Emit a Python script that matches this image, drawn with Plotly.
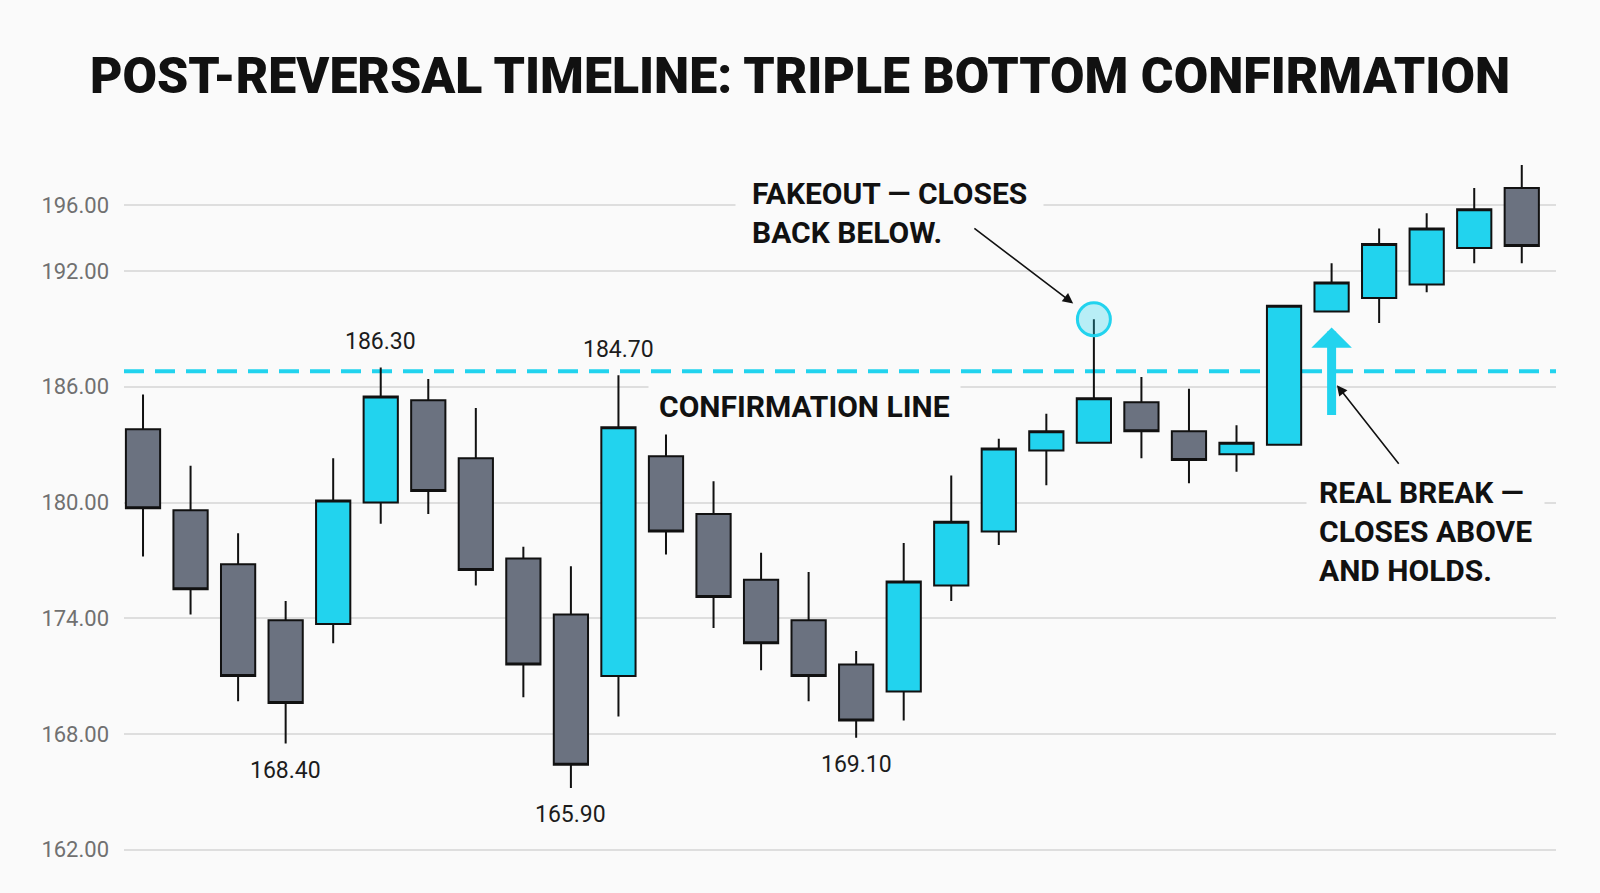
import plotly.graph_objects as go

TITLE = "POST-REVERSAL TIMELINE: TRIPLE BOTTOM CONFIRMATION"

# OHLC per session (left to right)
opens = [183.8, 179.6, 176.8, 173.9, 173.7, 180.0, 185.3, 182.3, 177.1, 174.2,
         171.0, 182.4, 179.4, 176.0, 173.9, 171.6, 170.2, 175.7, 178.5, 182.7,
         183.1, 185.2, 183.7, 182.5, 183.0, 189.9, 190.6, 191.3, 193.2, 196.3]
highs = [185.6, 181.9, 178.4, 174.9, 182.3, 187.0, 186.4, 184.9, 177.7, 176.7,
         186.6, 183.6, 181.1, 177.4, 176.4, 172.3, 177.9, 181.4, 183.3, 184.6,
         189.5, 186.5, 185.9, 184.0, 190.2, 192.4, 194.2, 195.0, 196.3, 197.5]
lows = [177.2, 174.2, 169.7, 167.5, 172.7, 178.9, 179.4, 175.7, 169.9, 165.2,
        168.9, 177.3, 173.5, 171.3, 169.7, 167.8, 168.7, 174.9, 177.8, 180.9,
        183.1, 182.3, 181.0, 181.6, 183.0, 189.9, 189.3, 190.9, 192.4, 192.4]
closes = [179.7, 175.5, 171.0, 169.6, 180.1, 185.5, 180.6, 176.5, 171.6, 166.4,
          183.9, 178.5, 175.1, 172.7, 171.0, 168.7, 175.9, 179.0, 182.8, 183.7,
          185.4, 183.7, 182.2, 183.1, 190.2, 191.4, 193.4, 194.2, 195.2, 193.3]

CONFIRM_LEVEL = 186.8

# y ticks as they sit on the picture
tick_pos = [162, 168, 174, 180, 186, 192, 195.4]
tick_text = ["162.00", "168.00", "174.00", "180.00", "186.00", "192.00", "196.00"]

# price callouts at the swing highs / lows
callout_idx = [5, 10, 3, 9, 15]
callout_text = ["186.30", "184.70", "168.40", "165.90", "169.10"]
callout_side = ["high", "high", "low", "low", "low"]

FAKEOUT_IDX = 20
BREAK_IDX = 25

CYAN = "#22d3ee"
GRAY = "#6b7280"
INK = "#111111"
BG = "#fafafa"
FONT = "Roboto"

x = list(range(len(opens)))

fig = go.Figure()

fig.add_trace(go.Candlestick(
    x=x, open=opens, high=highs, low=lows, close=closes,
    increasing=dict(fillcolor=CYAN, line=dict(color=INK, width=2)),
    decreasing=dict(fillcolor=GRAY, line=dict(color=INK, width=2)),
    whiskerwidth=0,
    showlegend=False,
))

# ring around the fakeout wick
fig.add_trace(go.Scatter(
    x=[FAKEOUT_IDX], y=[highs[FAKEOUT_IDX]],
    mode="markers",
    marker=dict(size=33, color="rgba(34,211,238,0.30)",
                line=dict(color=CYAN, width=3)),
    showlegend=False, hoverinfo="skip",
))

# dashed confirmation line
fig.add_shape(
    type="line", xref="paper", x0=0, x1=1, yref="y",
    y0=CONFIRM_LEVEL, y1=CONFIRM_LEVEL,
    line=dict(color=CYAN, width=4, dash="20px,11px"),
    layer="between",
)

# swing high/low price labels
for i, txt, side in zip(callout_idx, callout_text, callout_side):
    if side == "high":
        fig.add_annotation(x=i, y=highs[i], text=txt, showarrow=False,
                           yanchor="bottom", yshift=10,
                           font=dict(family=FONT, size=23, color="#1c1c1c"))
    else:
        fig.add_annotation(x=i, y=lows[i], text=txt, showarrow=False,
                           yanchor="top", yshift=-11,
                           font=dict(family=FONT, size=23, color="#1c1c1c"))

label_font = dict(family=FONT, size=30, color=INK, weight=700)

fig.add_annotation(
    xref="paper", yref="paper", x=0.4267, y=0.8956,
    xanchor="left", yanchor="middle", align="left",
    text="FAKEOUT — CLOSES<br>BACK BELOW.",
    showarrow=False, bgcolor=BG, borderpad=16, font=label_font,
)
fig.add_annotation(
    xref="paper", yref="paper", x=0.4749, y=0.6303,
    xanchor="center", yanchor="middle",
    text="CONFIRMATION LINE",
    showarrow=False, bgcolor=BG, borderpad=10, font=label_font,
)
fig.add_annotation(
    xref="paper", yref="paper", x=0.8254, y=0.4598,
    xanchor="left", yanchor="middle", align="left",
    text="REAL BREAK —<br>CLOSES ABOVE<br>AND HOLDS.",
    showarrow=False, bgcolor=BG, borderpad=12, font=label_font,
)

# pointer to the fakeout ring
fig.add_annotation(
    x=FAKEOUT_IDX, y=highs[FAKEOUT_IDX], text="",
    showarrow=True, ax=-121, ay=-92, standoff=26,
    arrowcolor=INK, arrowwidth=1.6, arrowhead=2, arrowsize=1.3,
)
# pointer to the real break
fig.add_annotation(
    xref="paper", yref="paper", x=0.847, y=0.660, text="",
    showarrow=True, ax=63, ay=80,
    arrowcolor=INK, arrowwidth=1.6, arrowhead=2, arrowsize=1.3,
)
# thick cyan up arrow under the breakout candle
fig.add_annotation(
    x=BREAK_IDX, y=lows[BREAK_IDX], text="",
    showarrow=True, ax=0, ay=105, standoff=16,
    arrowcolor=CYAN, arrowwidth=9, arrowhead=1, arrowsize=0.75,
)

fig.update_layout(
    width=1600, height=893,
    paper_bgcolor=BG, plot_bgcolor=BG,
    margin=dict(l=124, r=44, t=136, b=24),
    title=dict(text=TITLE, x=0.5, xanchor="center", y=0.916, yanchor="middle",
               font=dict(family=FONT, size=50, color=INK, weight=900)),
    boxgap=0.28, boxgroupgap=0,
    showlegend=False,
)
fig.update_xaxes(range=[-0.40, 29.72], visible=False,
                 rangeslider=dict(visible=False))
fig.update_yaxes(range=[161, 199], tickvals=tick_pos, ticktext=tick_text,
                 showgrid=True, gridcolor="#dedede", gridwidth=1.5,
                 zeroline=False, showline=False, ticks="",
                 ticklabelstandoff=14,
                 tickfont=dict(family=FONT, size=22, color="#707070"))

fig.write_html("out.html", config={"displayModeBar": False},
               post_script="document.body.style.margin = '0';")
